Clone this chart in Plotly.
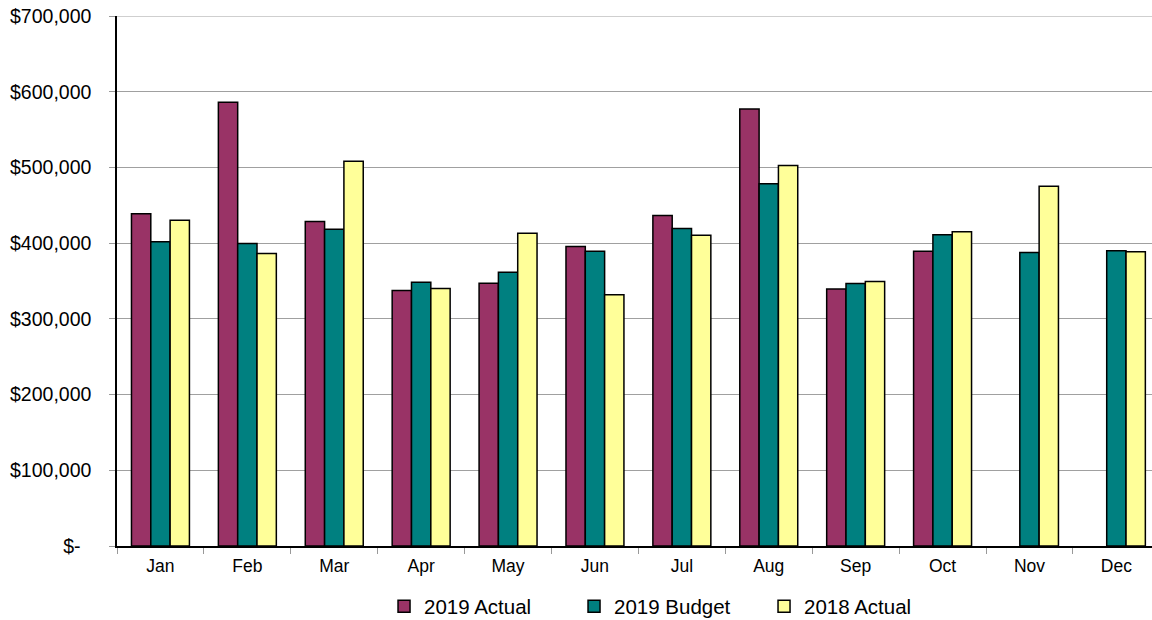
import plotly.graph_objects as go

months = ["Jan", "Feb", "Mar", "Apr", "May", "Jun", "Jul", "Aug", "Sep", "Oct", "Nov", "Dec"]
actual_2019 = [438700, 586000, 428500, 337300, 347000, 395500, 436400, 577200, 339500, 389300, None, None]
budget_2019 = [401700, 399500, 418400, 348400, 361600, 389300, 419300, 478300, 346700, 411000, 387800, 389800]
actual_2018 = [430200, 386300, 508000, 340000, 413000, 332000, 410400, 502400, 349300, 415000, 475000, 388500]

y_ticks = [0, 100000, 200000, 300000, 400000, 500000, 600000, 700000]
y_ticktext = ["$-\u00a0\u00a0", "$100,000", "$200,000", "$300,000", "$400,000", "$500,000", "$600,000", "$700,000"]

series = [
    ("2019 Actual", actual_2019, "#993366"),
    ("2019 Budget", budget_2019, "#008080"),
    ("2018 Actual", actual_2018, "#FFFF99"),
]

GRID = "#a0a0a0"
fig = go.Figure()
for name, vals, col in series:
    fig.add_trace(go.Bar(
        name=name, x=months, y=vals,
        marker=dict(color=col, line=dict(color="#000000", width=1.5)),
    ))

FONT = "Liberation Sans, Arial, sans-serif"
fig.update_layout(
    width=1152, height=620,
    margin=dict(l=117, r=0, t=16, b=73.6, autoexpand=False),
    paper_bgcolor="white", plot_bgcolor="white",
    barmode="group", bargap=0.333, bargroupgap=0,
    font=dict(family=FONT, color="#000000", size=17),
    showlegend=True,
    legend=dict(
        orientation="h", x=0.258, xanchor="left", y=-0.114, yanchor="middle",
        font=dict(family=FONT, size=20.5, color="#000000"),
        entrywidth=145, entrywidthmode="pixels",
        bgcolor="rgba(0,0,0,0)",
        traceorder="normal",
    ),
    xaxis=dict(
        type="category", range=[-0.5, 11.41], automargin=False,
        tickson="boundaries", ticks="outside", ticklen=6, tickcolor="#999999",
        showline=True, linecolor="#000000", linewidth=1.5,
        showgrid=False, tickfont=dict(family=FONT, size=17.5, color="#000000"),
        ticklabelstandoff=3,
    ),
    yaxis=dict(
        range=[0, 700000], tickvals=y_ticks, ticktext=y_ticktext, automargin=False,
        ticks="outside", ticklen=6, tickcolor="#999999",
        showline=True, linecolor="#000000", linewidth=1.5,
        showgrid=True, gridcolor=GRID, gridwidth=1,
        zeroline=False, ticklabeloverflow="allow",
        tickfont=dict(family=FONT, size=19.5, color="#000000"),
        ticklabelstandoff=14,
    ),
)
fig.add_shape(type="line", xref="paper", yref="y", x0=0, x1=1,
              y0=y_ticks[-1], y1=y_ticks[-1], line=dict(color=GRID, width=1), layer="below")

# remove the page's default 8px body margin so the figure fills the window exactly
fig.write_html("out.html", config={"displayModeBar": False},
               post_script="document.body.style.margin='0px';")
